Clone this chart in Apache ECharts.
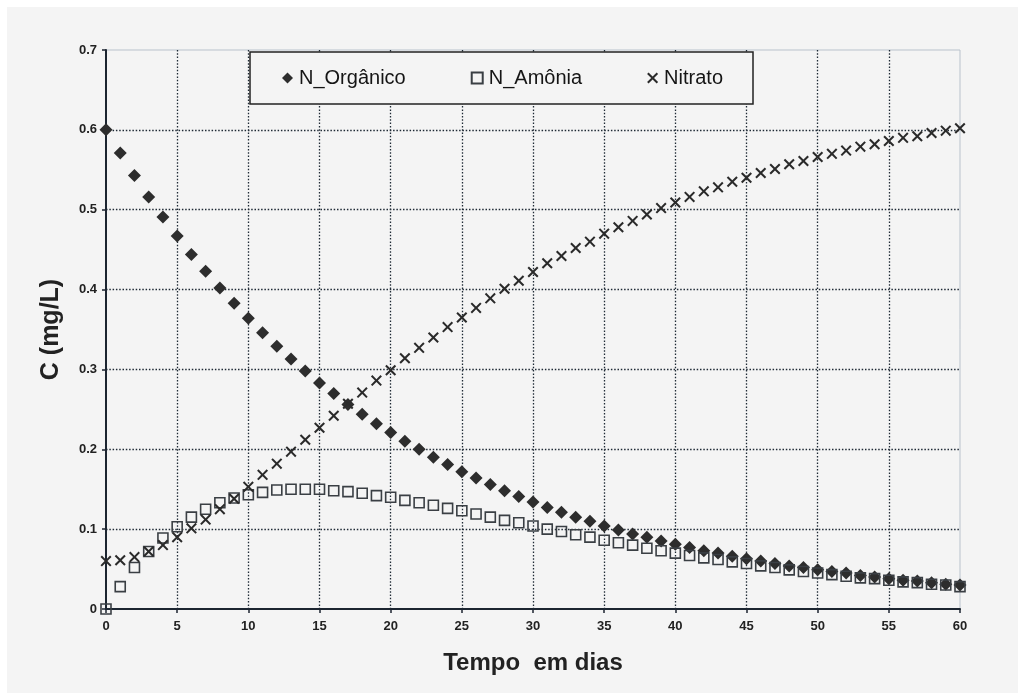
<!DOCTYPE html>
<html>
<head>
<meta charset="utf-8">
<script src="https://cdn.jsdelivr.net/npm/echarts@6/dist/echarts.min.js"></script>
<style>
html, body { margin: 0; padding: 0; background: #fff; overflow: hidden; }
#chart { position: absolute; left: 7px; top: 7px; width: 1011px; height: 686px; }
</style>
</head>
<body>
<div id="chart"></div>
<script>
// dias (eixo x)
const days = [0, 1, 2, 3, 4, 5, 6, 7, 8, 9, 10, 11, 12, 13, 14, 15, 16, 17, 18, 19, 20,
    21, 22, 23, 24, 25, 26, 27, 28, 29, 30, 31, 32, 33, 34, 35, 36, 37, 38, 39, 40,
    41, 42, 43, 44, 45, 46, 47, 48, 49, 50, 51, 52, 53, 54, 55, 56, 57, 58, 59, 60];

// C (mg/L)
const nOrganico = [0.600, 0.571, 0.543, 0.516, 0.491, 0.467, 0.444, 0.423, 0.402, 0.383, 0.364,
    0.346, 0.329, 0.313, 0.298, 0.283, 0.270, 0.256, 0.244, 0.232, 0.221,
    0.210, 0.200, 0.190, 0.181, 0.172, 0.164, 0.156, 0.148, 0.141, 0.134,
    0.127, 0.121, 0.115, 0.110, 0.104, 0.099, 0.094, 0.090, 0.085, 0.081,
    0.077, 0.073, 0.070, 0.066, 0.063, 0.060, 0.057, 0.054, 0.052, 0.049,
    0.047, 0.045, 0.042, 0.040, 0.038, 0.036, 0.035, 0.033, 0.031, 0.030];

const nAmonia = [0.000, 0.028, 0.052, 0.072, 0.089, 0.103, 0.115, 0.125, 0.133, 0.139, 0.143,
    0.146, 0.149, 0.150, 0.150, 0.150, 0.148, 0.147, 0.145, 0.142, 0.140,
    0.136, 0.133, 0.130, 0.126, 0.123, 0.119, 0.115, 0.111, 0.108, 0.104,
    0.100, 0.097, 0.093, 0.090, 0.086, 0.083, 0.080, 0.076, 0.073, 0.070,
    0.067, 0.064, 0.062, 0.059, 0.057, 0.054, 0.052, 0.049, 0.047, 0.045,
    0.043, 0.041, 0.039, 0.038, 0.036, 0.034, 0.033, 0.031, 0.030, 0.028];

const nitrato = [0.060, 0.061, 0.065, 0.072, 0.080, 0.090, 0.101, 0.112, 0.125, 0.138, 0.153,
    0.168, 0.182, 0.197, 0.212, 0.227, 0.242, 0.257, 0.271, 0.286, 0.299,
    0.314, 0.327, 0.340, 0.353, 0.365, 0.377, 0.389, 0.401, 0.411, 0.422,
    0.433, 0.442, 0.452, 0.460, 0.470, 0.478, 0.486, 0.494, 0.502, 0.509,
    0.516, 0.523, 0.528, 0.535, 0.540, 0.546, 0.551, 0.557, 0.561, 0.566,
    0.570, 0.574, 0.579, 0.582, 0.586, 0.590, 0.592, 0.596, 0.599, 0.602];

const seriesNames = ['N_Orgânico', 'N_Amônia', 'Nitrato'];

const xMark = 'path://M0,1.3L1.3,0L5,3.7L8.7,0L10,1.3L6.3,5L10,8.7L8.7,10L5,6.3L1.3,10L0,8.7L3.7,5Z';
const gridDots = { color: '#1f2a35', width: 1.3, type: [1.5, 1.8] };
const font = 'Liberation Sans, Arial, sans-serif';

const pairs = vals => days.map((d, i) => [d, vals[i]]);

const chart = echarts.init(document.getElementById('chart'));
chart.setOption({
    backgroundColor: '#f4f4f4',
    animation: false,
    textStyle: { fontFamily: font },
    grid: {
        left: 99, right: 58, top: 43, bottom: 84,
        show: true, borderColor: '#b9c2cc', borderWidth: 1
    },
    legend: {
        data: seriesNames,
        left: 243, top: 45,
        orient: 'horizontal',
        itemWidth: 11, itemHeight: 11,
        itemGap: 65,
        padding: [16, 30, 16, 32],
        backgroundColor: '#f4f4f4',
        borderColor: '#222', borderWidth: 1.5, borderRadius: 0,
        textStyle: { fontSize: 20, color: '#151515', fontFamily: font, padding: [0, 0, 0, 1] }
    },
    xAxis: {
        type: 'value', min: 0, max: 60, interval: 5,
        name: 'Tempo  em dias', nameLocation: 'middle', nameGap: 42,
        nameTextStyle: { fontSize: 24, fontWeight: 'bold', color: '#222', fontFamily: font },
        axisLine: { lineStyle: { color: '#1c2530', width: 2 } },
        axisTick: { show: true, length: 4, lineStyle: { color: '#1c2530', width: 1.5 } },
        axisLabel: { fontSize: 13, fontWeight: 'bold', color: '#222', margin: 11 },
        splitLine: { show: true, showMinLine: false, showMaxLine: false, lineStyle: gridDots }
    },
    yAxis: {
        type: 'value', min: 0, max: 0.7, interval: 0.1,
        name: 'C (mg/L)', nameLocation: 'middle', nameGap: 42, nameRotate: 90,
        nameTextStyle: { fontSize: 25, fontWeight: 'bold', color: '#222', fontFamily: font },
        axisLine: { show: true, lineStyle: { color: '#1c2530', width: 2 } },
        axisTick: { show: true, length: 4, lineStyle: { color: '#1c2530', width: 1.5 } },
        axisLabel: {
            fontSize: 13, fontWeight: 'bold', color: '#222', margin: 9,
            formatter: v => (v === 0 ? '0' : v.toFixed(1))
        },
        splitLine: { show: true, showMinLine: false, showMaxLine: false, lineStyle: gridDots }
    },
    series: [
        {
            name: seriesNames[0], type: 'scatter',
            symbol: 'diamond', symbolSize: 13,
            itemStyle: { color: '#2d2d2d', opacity: 1 },
            data: pairs(nOrganico)
        },
        {
            name: seriesNames[1], type: 'scatter',
            symbol: 'rect', symbolSize: 10,
            itemStyle: { color: 'rgba(0,0,0,0)', borderColor: '#3a3f44', borderWidth: 1.6, opacity: 1 },
            data: pairs(nAmonia)
        },
        {
            name: seriesNames[2], type: 'scatter',
            symbol: xMark, symbolSize: 11,
            itemStyle: { color: '#2a2a2a', opacity: 1 },
            data: pairs(nitrato)
        }
    ]
});
</script>
</body>
</html>
